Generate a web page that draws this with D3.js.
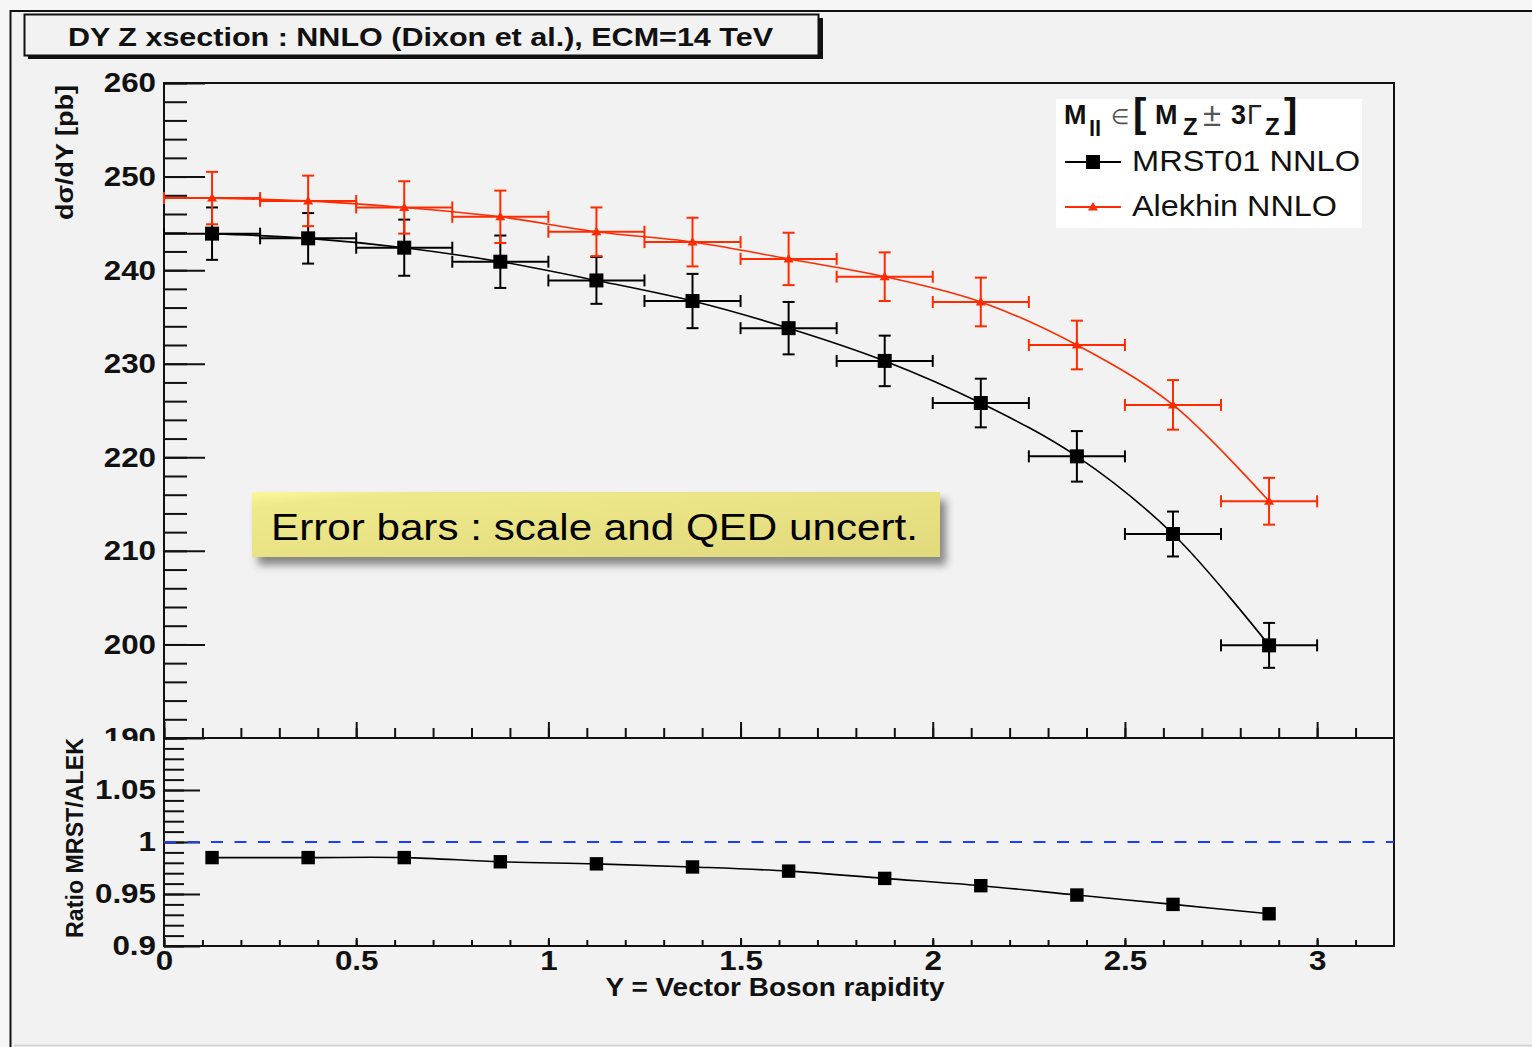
<!DOCTYPE html>
<html>
<head>
<meta charset="utf-8">
<script src="https://cdn.jsdelivr.net/npm/d3@7"></script>
<style>
  html, body { margin: 0; padding: 0; background: #f2f2f2; }
  svg { display: block; }
  text { font-family: "Liberation Sans", Arial, Helvetica, sans-serif; }
</style>
</head>
<body>
<svg id="chart" width="1532" height="1047"></svg>
<script>
// Rapidity bin centres and half-width (Y = vector boson rapidity)
const rapidity = [0.125, 0.375, 0.625, 0.875, 1.125, 1.375, 1.625, 1.875, 2.125, 2.375, 2.625, 2.875];
const binHalfWidth = 0.125;

// dsigma/dY [pb] with scale+QED uncertainty
const mrst = [243.9, 243.4, 242.4, 240.9, 238.9, 236.7, 233.8, 230.3, 225.8, 220.1, 211.8, 199.9];
const mrstErr = [2.8, 2.7, 3.0, 2.8, 2.5, 2.9, 2.8, 2.7, 2.6, 2.7, 2.4, 2.4];
const alekhin = [247.7, 247.4, 246.7, 245.7, 244.1, 243.0, 241.2, 239.3, 236.6, 232.0, 225.6, 215.3];
const alekhinErr = [2.8, 2.7, 2.8, 2.8, 2.6, 2.6, 2.8, 2.6, 2.6, 2.6, 2.65, 2.5];

// Ratio MRST / Alekhin
const ratio = [0.985, 0.985, 0.985, 0.981, 0.979, 0.976, 0.972, 0.965, 0.958, 0.949, 0.940, 0.931];

// Axis ticks
const xMajor = [0, 0.5, 1, 1.5, 2, 2.5, 3];
const xMinor = d3.range(0, 32).map(i => i / 10);
const yTopMajor = [190, 200, 210, 220, 230, 240, 250, 260];
const yTopMinor = d3.range(190, 261, 2);
const yBotMajor = [0.9, 0.95, 1, 1.05];
const yBotMinor = d3.range(0, 21).map(i => 0.9 + i * 0.01);

const titleText = "DY Z xsection : NNLO (Dixon et al.), ECM=14 TeV";
const seriesNames = ["MRST01 NNLO", "Alekhin NNLO"];
const noteText = "Error bars : scale and QED uncert.";

const RED = "#ff2a00";
const svg = d3.select("#chart");
const defs = svg.append("defs");

// ---------- canvas background and outer frame ----------
svg.append("rect").attr("width", 1532).attr("height", 1047).attr("fill", "#f2f2f2");
svg.append("rect").attr("width", 1532).attr("height", 10).attr("fill", "#f6f6f6");
svg.append("rect").attr("width", 10).attr("height", 1047).attr("fill", "#f6f6f6");
svg.append("path").attr("d", "M10.5,1047 V11 H1532").attr("fill", "none")
  .attr("stroke", "#111").attr("stroke-width", 2);
svg.append("line").attr("x1", 14).attr("x2", 1532).attr("y1", 1045.5).attr("y2", 1045.5)
  .attr("stroke", "#cfcfcf").attr("stroke-width", 1.5);

// ---------- scales ----------
const x = d3.scaleLinear().domain([0, 3.2]).range([164, 1394]);
const yTop = d3.scaleLinear().domain([190, 260]).range([738, 83]);
const yBot = d3.scaleLinear().domain([0.9, 1.1]).range([946, 738]);

// ---------- title box ----------
svg.append("rect").attr("x", 28).attr("y", 18).attr("width", 795).attr("height", 41).attr("fill", "#111");
svg.append("rect").attr("x", 24.5).attr("y", 14.5).attr("width", 794).attr("height", 41)
  .attr("fill", "#f2f2f2").attr("stroke", "#111").attr("stroke-width", 2);
svg.append("text").attr("x", 68).attr("y", 46).attr("font-size", 26.5).attr("font-weight", "bold")
  .attr("fill", "#111").attr("textLength", 705).attr("lengthAdjust", "spacingAndGlyphs").text(titleText);

// ---------- axes helpers ----------
function styleAxis(g) {
  g.select(".domain").remove();
  g.selectAll(".tick line").attr("stroke", "#111").attr("stroke-width", 2);
  g.selectAll(".tick text").attr("font-size", 28).attr("font-weight", "bold")
    .attr("fill", "#111").attr("font-family", "Liberation Sans, Arial, sans-serif")
    .each(function () {
      // slightly wide lettering for the axis numbers
      const w = this.getComputedTextLength();
      if (w > 0) d3.select(this).attr("textLength", w * 1.12).attr("lengthAdjust", "spacingAndGlyphs");
    });
}

// Upper pad: y axis (the lowest label is partly hidden by the ratio pad)
const gTopYMinor = svg.append("g").attr("transform", "translate(164,0)")
  .call(d3.axisLeft(yTop).tickValues(yTopMinor).tickSize(-23).tickFormat(""));
styleAxis(gTopYMinor);

defs.append("clipPath").attr("id", "topLabelClip")
  .append("rect").attr("x", -164).attr("y", 0).attr("width", 400).attr("height", 741);

const gTopY = svg.append("g").attr("transform", "translate(164,0)")
  .attr("clip-path", "url(#topLabelClip)")
  .call(d3.axisLeft(yTop).tickValues(yTopMajor).tickSize(-41).tickPadding(8).tickFormat(d3.format("d")));
styleAxis(gTopY);

// Upper pad: x axis ticks along the bottom edge (no labels)
const gTopXMinor = svg.append("g").attr("transform", "translate(0,738)")
  .call(d3.axisBottom(x).tickValues(xMinor).tickSize(-10).tickFormat(""));
styleAxis(gTopXMinor);
const gTopX = svg.append("g").attr("transform", "translate(0,738)")
  .call(d3.axisBottom(x).tickValues(xMajor).tickSize(-16).tickFormat(""));
styleAxis(gTopX);

// Lower pad axes
const gBotYMinor = svg.append("g").attr("transform", "translate(164,0)")
  .call(d3.axisLeft(yBot).tickValues(yBotMinor).tickSize(-20).tickFormat(""));
styleAxis(gBotYMinor);
const gBotY = svg.append("g").attr("transform", "translate(164,0)")
  .call(d3.axisLeft(yBot).tickValues(yBotMajor).tickSize(-36).tickPadding(8).tickFormat(d3.format("")));
styleAxis(gBotY);

const gBotXMinor = svg.append("g").attr("transform", "translate(0,946)")
  .call(d3.axisBottom(x).tickValues(xMinor).tickSize(-6).tickFormat(""));
styleAxis(gBotXMinor);
const gBotX = svg.append("g").attr("transform", "translate(0,946)")
  .call(d3.axisBottom(x).tickValues(xMajor).tickSize(-8).tickPadding(4).tickFormat(d3.format("")));
styleAxis(gBotX);

// ---------- pad frames ----------
svg.append("rect").attr("x", x(0)).attr("y", yTop(260)).attr("width", x(3.2) - x(0))
  .attr("height", yTop(190) - yTop(260)).attr("fill", "none").attr("stroke", "#111").attr("stroke-width", 2);
svg.append("rect").attr("x", x(0)).attr("y", yBot(1.1)).attr("width", x(3.2) - x(0))
  .attr("height", yBot(0.9) - yBot(1.1)).attr("fill", "none").attr("stroke", "#111").attr("stroke-width", 2);

// ---------- axis titles ----------
svg.append("text").attr("transform", `translate(73,85) rotate(-90)`).attr("text-anchor", "end")
  .attr("font-size", 24).attr("font-weight", "bold").attr("fill", "#111")
  .attr("textLength", 135).attr("lengthAdjust", "spacingAndGlyphs").text("dσ/dY [pb]");
svg.append("text").attr("transform", `translate(83,738) rotate(-90)`).attr("text-anchor", "end")
  .attr("font-size", 23).attr("font-weight", "bold").attr("fill", "#111")
  .attr("textLength", 200).attr("lengthAdjust", "spacingAndGlyphs").text("Ratio MRST/ALEK");
svg.append("text").attr("x", 775).attr("y", 996).attr("text-anchor", "middle")
  .attr("font-size", 25).attr("font-weight", "bold").attr("fill", "#111")
  .attr("textLength", 339).attr("lengthAdjust", "spacingAndGlyphs").text("Y = Vector Boson rapidity");

// ---------- data series in upper pad ----------
const capHalf = 6;
function drawSeries(values, errors, color, marker) {
  const pts = rapidity.map((r, i) => ({ r, v: values[i], e: errors[i] }));
  const g = svg.append("g");
  // smooth curve through the points
  g.append("path").datum(pts)
    .attr("d", d3.line().x(d => x(d.r)).y(d => yTop(d.v)).curve(d3.curveCatmullRom.alpha(0.5)))
    .attr("fill", "none").attr("stroke", color).attr("stroke-width", 1.6);
  // error bars
  const eb = g.selectAll("g.eb").data(pts).join("g").attr("class", "eb")
    .attr("stroke", color).attr("stroke-width", 2).attr("fill", "none");
  eb.append("line").attr("x1", d => x(d.r)).attr("x2", d => x(d.r))
    .attr("y1", d => yTop(d.v + d.e)).attr("y2", d => yTop(d.v - d.e));
  eb.append("line").attr("x1", d => x(d.r) - capHalf).attr("x2", d => x(d.r) + capHalf)
    .attr("y1", d => yTop(d.v + d.e)).attr("y2", d => yTop(d.v + d.e));
  eb.append("line").attr("x1", d => x(d.r) - capHalf).attr("x2", d => x(d.r) + capHalf)
    .attr("y1", d => yTop(d.v - d.e)).attr("y2", d => yTop(d.v - d.e));
  eb.append("line").attr("x1", d => x(d.r - binHalfWidth)).attr("x2", d => x(d.r + binHalfWidth))
    .attr("y1", d => yTop(d.v)).attr("y2", d => yTop(d.v));
  eb.append("line").attr("x1", d => x(d.r - binHalfWidth)).attr("x2", d => x(d.r - binHalfWidth))
    .attr("y1", d => yTop(d.v) - capHalf).attr("y2", d => yTop(d.v) + capHalf);
  eb.append("line").attr("x1", d => x(d.r + binHalfWidth)).attr("x2", d => x(d.r + binHalfWidth))
    .attr("y1", d => yTop(d.v) - capHalf).attr("y2", d => yTop(d.v) + capHalf);
  // markers
  g.selectAll("path.mk").data(pts).join("path").attr("class", "mk")
    .attr("transform", d => `translate(${x(d.r)},${yTop(d.v)})`)
    .attr("d", marker).attr("fill", color);
}
const squareMarker = d3.symbol(d3.symbolSquare, 196)();
const triangleMarker = "M0,-5 L5,3.5 L-5,3.5 Z";

drawSeries(mrst, mrstErr, "#000", squareMarker);
drawSeries(alekhin, alekhinErr, RED, triangleMarker);

// ---------- legend ----------
const leg = svg.append("g");
leg.append("rect").attr("x", 1056).attr("y", 99).attr("width", 306).attr("height", 129).attr("fill", "#fff");
const hdr = [
  { t: "M", x: 1064, y: 124, fs: 27, w: "bold", c: "#111" },
  { t: "ll", x: 1089, y: 136, fs: 22, w: "bold", c: "#111" },
  { t: "∈", x: 1111, y: 124, fs: 21, w: "normal", c: "#555" },
  { t: "[", x: 1133, y: 127, fs: 40, w: "bold", c: "#111" },
  { t: "M", x: 1155, y: 124, fs: 27, w: "bold", c: "#111" },
  { t: "Z", x: 1183, y: 135, fs: 24, w: "bold", c: "#111" },
  { t: "±", x: 1203, y: 126, fs: 33, w: "normal", c: "#555" },
  { t: "3", x: 1231, y: 124, fs: 27, w: "bold", c: "#111" },
  { t: "Γ", x: 1247, y: 124, fs: 27, w: "normal", c: "#222" },
  { t: "Z", x: 1265, y: 135, fs: 24, w: "bold", c: "#111" },
  { t: "]", x: 1284, y: 127, fs: 40, w: "bold", c: "#111" }
];
leg.selectAll("text.hdr").data(hdr).join("text").attr("class", "hdr")
  .attr("x", d => d.x).attr("y", d => d.y).attr("font-size", d => d.fs)
  .attr("font-weight", d => d.w).attr("fill", d => d.c).text(d => d.t);

const legRows = [
  { name: seriesNames[0], color: "#000", marker: squareMarker, y: 162, len: 228 },
  { name: seriesNames[1], color: RED, marker: triangleMarker, y: 207, len: 205 }
];
legRows.forEach(row => {
  leg.append("line").attr("x1", 1065).attr("x2", 1121).attr("y1", row.y).attr("y2", row.y)
    .attr("stroke", row.color).attr("stroke-width", 2);
  leg.append("path").attr("transform", `translate(1093,${row.y})`).attr("d", row.marker).attr("fill", row.color);
  leg.append("text").attr("x", 1132).attr("y", row.y + 9).attr("font-size", 29).attr("fill", "#111")
    .attr("textLength", row.len).attr("lengthAdjust", "spacingAndGlyphs").text(row.name);
});

// ---------- annotation box ----------
const grad = defs.append("linearGradient").attr("id", "noteFill").attr("x1", 0).attr("y1", 0).attr("x2", 1).attr("y2", 1);
grad.append("stop").attr("offset", "0%").attr("stop-color", "#fbf89c");
grad.append("stop").attr("offset", "12%").attr("stop-color", "#eee98a");
grad.append("stop").attr("offset", "100%").attr("stop-color", "#e1da7d");
const shadow = defs.append("filter").attr("id", "noteShadow").attr("x", "-10%").attr("y", "-30%")
  .attr("width", "130%").attr("height", "180%");
shadow.append("feDropShadow").attr("dx", 6).attr("dy", 8).attr("stdDeviation", 4)
  .attr("flood-color", "#000").attr("flood-opacity", 0.45);
svg.append("rect").attr("x", 252).attr("y", 492).attr("width", 688).attr("height", 65)
  .attr("fill", "url(#noteFill)").attr("filter", "url(#noteShadow)");
svg.append("text").attr("x", 271).attr("y", 540).attr("font-size", 37)
  .attr("font-family", "DejaVu Sans Condensed, DejaVu Sans, Verdana, sans-serif")
  .attr("fill", "#000").attr("textLength", 647).attr("lengthAdjust", "spacingAndGlyphs").text(noteText);

// ---------- ratio pad ----------
svg.append("line").attr("x1", x(0)).attr("x2", x(3.2)).attr("y1", yBot(1)).attr("y2", yBot(1))
  .attr("stroke", "#1e3cff").attr("stroke-width", 2).attr("stroke-dasharray", "12 11.5");
const rpts = rapidity.map((r, i) => ({ r, v: ratio[i] }));
svg.append("path").datum(rpts)
  .attr("d", d3.line().x(d => x(d.r)).y(d => yBot(d.v)).curve(d3.curveCatmullRom.alpha(0.5)))
  .attr("fill", "none").attr("stroke", "#000").attr("stroke-width", 1.6);
svg.selectAll("path.rmk").data(rpts).join("path").attr("class", "rmk")
  .attr("transform", d => `translate(${x(d.r)},${yBot(d.v)})`)
  .attr("d", d3.symbol(d3.symbolSquare, 180)()).attr("fill", "#000");
</script>
</body>
</html>
